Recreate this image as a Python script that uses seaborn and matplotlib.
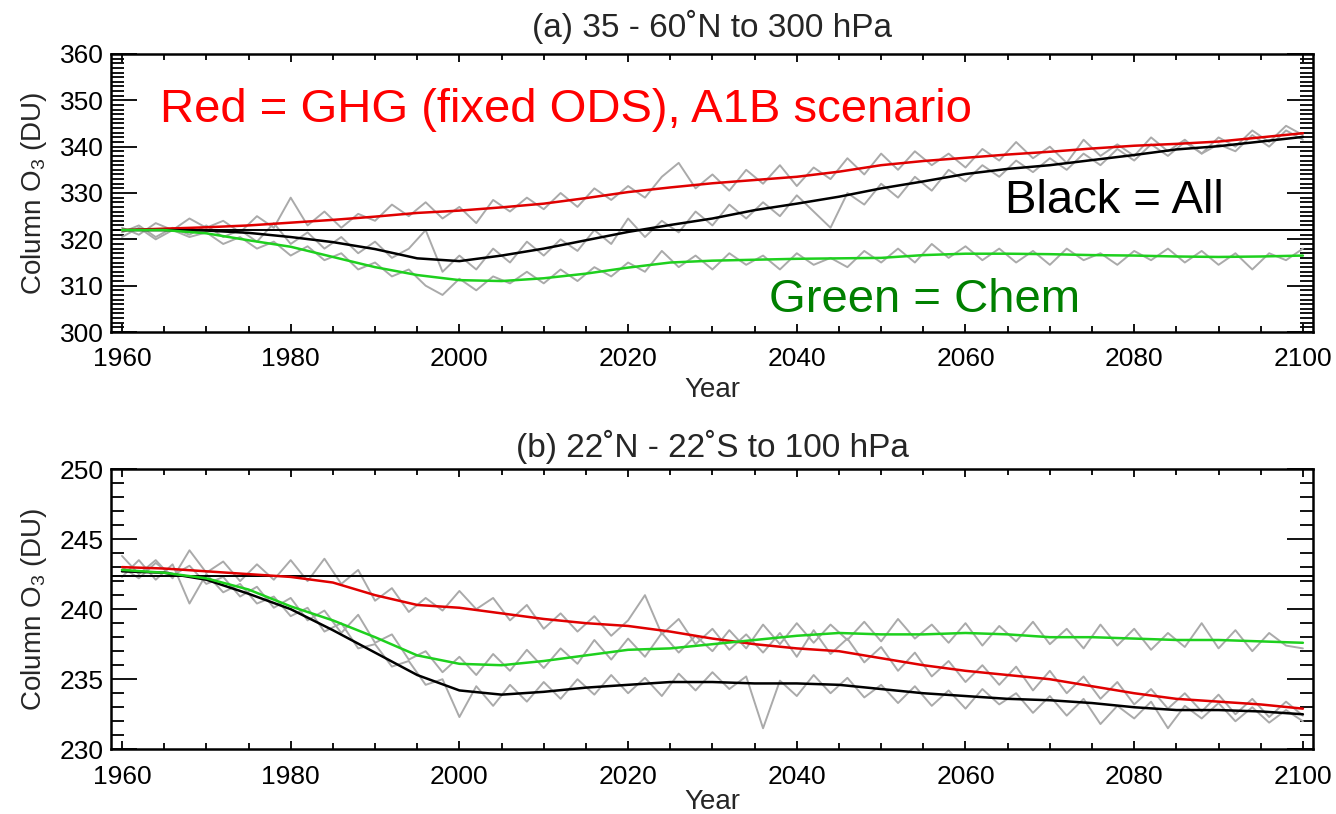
"""
Column ozone projections: GHG-only, chemistry-only and all-forcing runs.
Two panels: NH mid-latitudes and tropics.
"""
import numpy as np
import pandas as pd
import matplotlib
matplotlib.use('Agg')
import matplotlib.pyplot as plt
from matplotlib.ticker import MultipleLocator
import seaborn as sns

years_raw = list(range(1960, 2101, 2))
# smoothed curves, read every 5 years
years_smooth = list(range(1960, 2101, 5))

# ---- panel (a) 35-60N to 300 hPa ----
a_ghg_raw = [322.5, 321, 323.5, 322, 324.5, 322.5, 324, 321.5, 325, 322.5,
             329, 323, 326, 322.5, 325.5, 324, 327.5, 325, 328, 324.5,
             327, 323.5, 328.5, 326, 329, 326.5, 330, 327, 331, 328.5,
             331.5, 329, 333.5, 336.5, 331, 334, 330.5, 335, 332, 336,
             331.5, 335.5, 333, 337.5, 334, 338.5, 335, 339, 336, 338.5,
             335.5, 339.5, 337, 341, 337.5, 340, 336.5, 341.5, 338, 340.5,
             338, 342, 339, 341.5, 338.5, 342, 340, 343.5, 341, 344.5, 342.5]
a_all_raw = [321.5, 323, 320.5, 322.5, 321, 323, 320.5, 322, 319.5, 323.5,
             319, 321.5, 318, 320.5, 317, 319.5, 316, 318, 322, 313,
             316.5, 313.5, 318, 315, 319.5, 316.5, 320, 317.5, 322, 319,
             324.5, 320.5, 324, 321.5, 326, 323, 327.5, 324.5, 328, 325,
             329.5, 326, 322.5, 330, 327.5, 332, 329, 333.5, 330.5, 335,
             332.5, 336, 333.5, 337, 334.5, 337.5, 335, 338.5, 336, 339.5,
             337, 340.5, 338, 341, 338.5, 340.5, 339, 342.5, 340, 343.5, 341.5]
a_chem_raw = [320.5, 322.5, 320, 322, 320.5, 321.5, 319, 320.5, 318, 319.5,
              316.5, 318.5, 315.5, 317, 313.5, 315, 312, 313.5, 310, 308,
              311.5, 309, 312, 310.5, 313, 310.5, 313.5, 311, 314, 312,
              315, 313, 317.5, 314, 316.5, 313.5, 317, 314.5, 316.5, 313.5,
              317, 314.5, 316, 314, 317.5, 315, 318, 315, 319, 316,
              318.5, 315.5, 318, 315, 317.5, 314.5, 318, 315.5, 317, 314.5,
              317.5, 315.5, 318, 315, 317.5, 314.5, 317, 313.5, 317, 315.5, 318]
a_ghg = [322.0, 322.3, 322.6, 323.0, 323.6, 324.2, 324.9, 325.7, 326.2, 326.9,
         327.7, 328.9, 330.2, 331.2, 332.1, 332.8, 333.5, 334.6, 336.0, 336.9,
         337.6, 338.3, 338.9, 339.6, 340.2, 340.6, 341.1, 342.0, 342.9]
a_all = [322.0, 322.0, 321.9, 321.4, 320.5, 319.4, 317.9, 315.9, 315.3, 316.5,
         318.0, 319.8, 321.6, 323.1, 324.5, 326.3, 327.7, 329.2, 331.0, 332.5,
         334.1, 335.2, 336.0, 337.1, 338.2, 339.4, 340.1, 341.1, 342.1]
a_chem = [322.0, 322.0, 321.3, 319.8, 318.4, 316.2, 314.0, 312.3, 311.2, 311.0,
          311.6, 312.6, 313.9, 315.0, 315.4, 315.6, 315.8, 315.9, 316.0, 316.6,
          316.9, 316.9, 316.8, 316.6, 316.5, 316.3, 316.2, 316.3, 316.5]

# ---- panel (b) 22N-22S to 100 hPa ----
b_ghg_raw = [243.8, 242.5, 243.5, 242.2, 244.2, 242.6, 243.4, 242, 243.2, 242.1,
             243.5, 242, 243.6, 241.8, 242.8, 240.6, 241.5, 239.8, 240.8, 239.9,
             241.3, 240, 240.8, 239.2, 240.3, 238.6, 239.7, 238.4, 239.5, 238.1,
             239.2, 241, 238.2, 239.3, 237.5, 238.6, 237.1, 238.2, 236.9, 238.3,
             236.6, 238.5, 236.8, 237.9, 236.2, 237.3, 235.6, 236.9, 235.2, 236.3,
             234.8, 236, 234.6, 235.9, 234.2, 235.6, 234, 235.2, 233.6, 234.8,
             233.2, 234.3, 232.9, 234, 232.7, 233.9, 232.5, 233.6, 232.3, 233.4, 232.4]
b_all_raw = [242.3, 243.5, 242.1, 243.2, 240.4, 242.5, 241.2, 241.8, 240.4, 240.9,
             239.5, 240.1, 238.4, 239, 237.2, 237.5, 235.9, 236.3, 234.6, 235,
             232.3, 234.5, 233.1, 234.6, 233.4, 234.8, 233.6, 235, 233.9, 235.3,
             234, 235.1, 233.8, 235.4, 234.2, 235.5, 234.3, 235.2, 231.5, 234.9,
             233.8, 235.3, 234, 235.1, 233.7, 234.6, 233.3, 234.5, 233.1, 234.2,
             232.9, 234.3, 233.2, 234, 232.6, 233.8, 232.4, 233.6, 231.8, 233.1,
             232.2, 233.4, 231.5, 233.1, 232.2, 233.3, 232, 233, 231.9, 232.8, 232]
b_chem_raw = [243, 242.2, 243.3, 242.4, 243.1, 241.8, 242.3, 240.9, 241.6, 240.1,
              240.8, 239.2, 239.9, 238.3, 239.6, 237.6, 238.2, 236.4, 237, 235.5,
              236.6, 235.3, 236.8, 235.6, 237.1, 235.8, 237.2, 236.1, 237.8, 236.4,
              237.9, 236.6, 238.3, 236.9, 238.1, 237, 238.5, 237.2, 238.9, 237.5,
              239, 237.6, 238.9, 237.8, 239.1, 237.7, 239.3, 237.9, 238.9, 237.6,
              239, 237.4, 238.8, 237.7, 239.1, 237.5, 238.6, 237.2, 238.9, 237.4,
              238.6, 237.1, 238.3, 237.3, 239, 237.2, 238.5, 237, 238.3, 237.4, 237.2]
b_ghg = [243.0, 242.9, 242.7, 242.5, 242.3, 241.9, 241.0, 240.3, 240.1, 239.7,
         239.3, 239.0, 238.8, 238.4, 237.9, 237.5, 237.2, 237.0, 236.5, 236.0,
         235.6, 235.3, 235.0, 234.5, 234.0, 233.6, 233.4, 233.2, 232.9]
b_all = [242.7, 242.6, 242.1, 241.1, 240.0, 238.5, 236.9, 235.3, 234.2, 233.9,
         234.1, 234.4, 234.6, 234.8, 234.8, 234.7, 234.7, 234.6, 234.3, 234.0,
         233.8, 233.6, 233.5, 233.3, 233.0, 232.8, 232.8, 232.7, 232.5]
b_chem = [242.8, 242.6, 242.2, 241.4, 240.2, 239.2, 238.0, 236.7, 236.1, 236.0,
          236.3, 236.7, 237.1, 237.2, 237.5, 237.8, 238.1, 238.3, 238.2, 238.2,
          238.3, 238.2, 238.0, 238.0, 237.9, 237.8, 237.8, 237.7, 237.6]

ref_a = 322.0
ref_b = 242.4

RED = '#e00000'
GREEN = '#1ed01e'
GRAY = '#aaaaaa'

sns.set_theme(style='ticks')
plt.rcParams['font.family'] = ['Liberation Sans', 'DejaVu Sans']
plt.rcParams['axes.linewidth'] = 1.8


def style_axes(ax, ylim, ymajor, xpad):
    ax.set_xlim(1958.7, 2101.2)
    ax.set_ylim(*ylim)
    ax.xaxis.set_major_locator(MultipleLocator(20))
    ax.xaxis.set_minor_locator(MultipleLocator(5))
    ax.yaxis.set_major_locator(MultipleLocator(ymajor))
    ax.yaxis.set_minor_locator(MultipleLocator(1))
    ax.tick_params(which='both', direction='in', top=True, right=True,
                   colors='black', width=1.3)
    ax.tick_params(axis='x', which='major', length=6, pad=11, labelsize=19)
    ax.tick_params(axis='x', which='minor', length=4)
    ax.tick_params(axis='y', which='major', length=19, pad=5, labelsize=19)
    ax.tick_params(axis='y', which='minor', length=9.5)
    ax.set_xlabel('Year', fontsize=20, labelpad=xpad)
    ax.set_ylabel(r'Column $\mathregular{O_3}$ (DU)', fontsize=20, labelpad=8)
    for s in ax.spines.values():
        s.set_color('black')


def draw_panel(ax, raws, smooths, ref):
    for r in raws:
        sns.lineplot(x=years_raw, y=r, ax=ax, color=GRAY, lw=1.4)
    ax.axhline(ref, color='black', lw=1.4)
    for s, c in zip(smooths, [RED, 'black', GREEN]):
        sns.lineplot(x=years_smooth, y=s, ax=ax, color=c, lw=1.8)


fig = plt.figure(figsize=(13.36, 8.14), dpi=100)
ax1 = fig.add_axes([0.0831, 0.5921, 0.8997, 0.3416])
ax2 = fig.add_axes([0.0831, 0.0795, 0.8997, 0.3443])

draw_panel(ax1, [a_ghg_raw, a_all_raw, a_chem_raw], [a_ghg, a_all, a_chem], ref_a)
style_axes(ax1, (300, 360), 10, 4)
ax1.set_title('(a) 35 - 60˚N to 300 hPa', fontsize=24, pad=12)

draw_panel(ax2, [b_ghg_raw, b_all_raw, b_chem_raw], [b_ghg, b_all, b_chem], ref_b)
style_axes(ax2, (230, 250), 5, 0)
ax2.set_title('(b) 22˚N - 22˚S to 100 hPa', fontsize=24, pad=9)

# in-plot labels
ax1.text(0.041, 0.755, 'Red = GHG (fixed ODS), A1B scenario', transform=ax1.transAxes,
         color='#ff0000', fontsize=34, va='baseline', ha='left')
ax1.text(0.744, 0.428, 'Black = All', transform=ax1.transAxes,
         color='black', fontsize=34, va='baseline', ha='left')
ax1.text(0.547, 0.072, 'Green = Chem', transform=ax1.transAxes,
         color='#008000', fontsize=34, va='baseline', ha='left')

plt.savefig('out.png', dpi=100)
plt.close()
